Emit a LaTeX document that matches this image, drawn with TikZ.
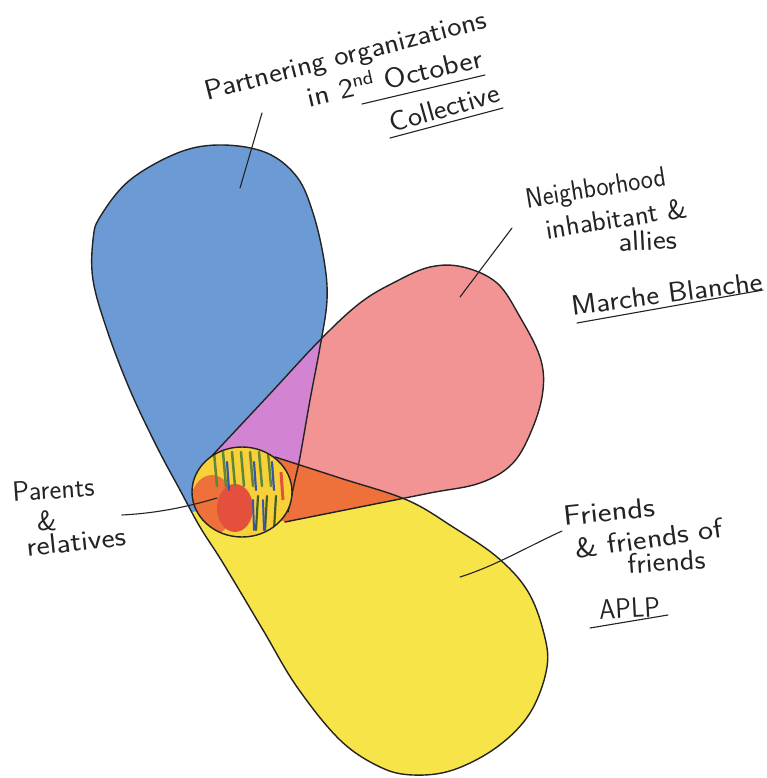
\documentclass[tikz,border=0pt]{standalone}
\usepackage{graphicx}
\definecolor{cblue}{RGB}{108,154,212}
\definecolor{cred}{RGB}{242,148,148}
\definecolor{cyel}{RGB}{246,228,72}
\definecolor{cmag}{RGB}{210,132,210}
\definecolor{cora}{RGB}{238,112,58}
\definecolor{ink}{RGB}{35,35,35}
\definecolor{cgreen}{RGB}{95,135,55}
\definecolor{cdblue}{RGB}{55,85,170}
\definecolor{cdred}{RGB}{228,80,60}
\def\pathBlue{(288,512) -- plot[smooth,tension=0.6] coordinates {(288,512) (295,480) (300,457) (310,400) (320,347) (327,300) (324,260) (313,213) (297,177) (267,153) (223,145) (180,152) (130,180) (100,217) (93,240) (93,280) (107,330) (130,390) (157,447) (180,490) (192,512)} -- (240,505) -- cycle}
\def\pathYel{(275,457) -- plot[smooth,tension=0.6] coordinates {(275,457) (340,478) (407,500) (453,527) (497,557) (527,590) (543,630) (547,667) (530,713) (497,747) (453,770) (413,775) (380,767) (340,740) (297,687) (263,630) (223,563) (200,527) (190,505)} -- (240,490) -- cycle}
\def\pathRed{(208,460) -- plot[smooth,tension=0.6] coordinates {(208,460) (267,397) (320,340) (360,303) (395,282) (430,267) (463,267) (497,283) (520,317) (540,357) (543,390) (533,427) (513,463) (480,483) (430,493) (360,507) (285,522)} -- (240,495) -- cycle}
\newcommand\hw[2]{\scalebox{#1}[1]{#2}}
\tikzset{
  outline/.style={draw=ink, line width=1.4pt, line join=round, line cap=round},
  pointer/.style={draw=ink, line width=1.1pt, line cap=round},
  lbl/.style={font=\sffamily\fontsize{28}{34}\selectfont, text=ink, inner sep=0pt, anchor=base},
}
\begin{document}
\begin{tikzpicture}[x=1pt,y=-1pt]
\useasboundingbox[fill=white] (0,0) rectangle (766,778);
% petal fills
\fill[cyel] \pathYel;
\fill[cred] \pathRed;
\fill[cblue] \pathBlue;
\begin{scope}
  \clip \pathBlue;
  \fill[cmag] \pathRed;
\end{scope}
\begin{scope}
  \clip \pathYel;
  \fill[cora] \pathRed;
\end{scope}
% outlines
\draw[outline] plot[smooth,tension=0.6] coordinates {(288,512) (295,480) (300,457) (310,400) (320,347) (327,300) (324,260) (313,213) (297,177) (267,153) (223,145) (180,152) (130,180) (100,217) (93,240) (93,280) (107,330) (130,390) (157,447) (180,490) (200,527) (223,563) (263,630) (297,687) (340,740) (380,767) (413,775) (453,770) (497,747) (530,713) (547,667) (543,630) (527,590) (497,557) (453,527) (407,500) (340,478) (275,457)};
\draw[outline] plot[smooth,tension=0.6] coordinates {(208,460) (267,397) (320,340) (360,303) (395,282) (430,267) (463,267) (497,283) (520,317) (540,357) (543,390) (533,427) (513,463) (480,483) (430,493) (360,507) (285,522)};
% central circle
\begin{scope}
  \clip (242,492) ellipse [x radius=50, y radius=45];
  \fill[cyel!80!orange] (185,440) rectangle (300,545);
  \fill[cora] (212,505) ellipse [x radius=22, y radius=30];
  \fill[cdred] (235,508) ellipse [x radius=18, y radius=24];
  \foreach \xx in {214,223,232,241,250,259,268}
    \draw[cgreen, line width=2.5pt, line cap=round] (\xx,452) -- (\xx+3,486);
  \foreach \xx in {227,254,272}
    \draw[cdblue, line width=2.2pt, line cap=round] (\xx,462) -- (\xx+2,490);
  \foreach \xx in {258,267,276}
    \draw[cgreen!70!black, line width=2.2pt, line cap=round] (\xx,496) -- (\xx-2,530);
  \foreach \xx in {253,263}
    \draw[cdblue, line width=2pt, line cap=round] (\xx,500) -- (\xx+1,530);
  \draw[cdred, line width=3pt] (281,472) -- (283,500);
\end{scope}
\draw[outline] (242,492) ellipse [x radius=50, y radius=45];
% labels
\node[lbl, rotate=14.5] (tA1) at (348,64) {\hw{1.09}{Partnering organizations}};
\node[lbl, rotate=13] (tA2) at (397,87) {\hw{1.13}{in 2\textsuperscript{nd} October}};
\node[lbl, rotate=16] (tA3) at (447,117) {\hw{1.07}{Collective}};
\node[lbl, rotate=9] (tB1) at (597,197) {\hw{0.92}{Neighborhood}};
\node[lbl, rotate=9] (tB2) at (618,228) {\hw{1.02}{inhabitant \&}};
\node[lbl, rotate=3] (tB3) at (648,250) {\hw{1.1}{allies}};
\node[lbl, rotate=7.5] (tB4) at (668,303) {\hw{1.09}{Marche Blanche}};
\node[lbl, rotate=4] (tC1) at (54,499) {\hw{1.0}{Parents}};
\node[lbl] (tC2) at (47,530) {\&};
\node[lbl, rotate=6] (tC3) at (77,551) {\hw{1.12}{relatives}};
\node[lbl, rotate=6] (tD1) at (610,521) {\hw{1.17}{Friends}};
\node[lbl, rotate=8] (tD2) at (650,548) {\hw{1.14}{\& friends of}};
\node[lbl, rotate=4] (tD3) at (667,571) {\hw{1.08}{friends}};
\node[lbl, rotate=3] (tD4) at (630,618) {\hw{0.93}{APLP}};
% pointers
\coordinate (pA1) at (262,113); \coordinate (pA2) at (240,188);
\coordinate (pB1) at (512,228); \coordinate (pB2) at (460,297);
\coordinate (pC1) at (122,515); \coordinate (pC2) at (217,498);
\coordinate (pD1) at (562,531); \coordinate (pD2) at (460,577);
\draw[pointer] (pA1) -- (pA2);
\draw[pointer] (pB1) -- (pB2);
\draw[pointer] (pC1) .. controls (160,513) and (190,506) .. (pC2);
\draw[pointer] (pD1) .. controls (525,548) and (495,566) .. (pD2);
% underlines
\coordinate (uA1) at (362,104); \coordinate (uA2) at (485,75);
\coordinate (uB1) at (390,138); \coordinate (uB2) at (503,108);
\coordinate (uC1) at (577,323); \coordinate (uC2) at (763,290);
\coordinate (uD1) at (590,628); \coordinate (uD2) at (668,615);
\draw[pointer] (uA1) -- (uA2);
\draw[pointer] (uB1) -- (uB2);
\draw[pointer] (uC1) -- (uC2);
\draw[pointer] (uD1) -- (uD2);
\end{tikzpicture}
\end{document}
